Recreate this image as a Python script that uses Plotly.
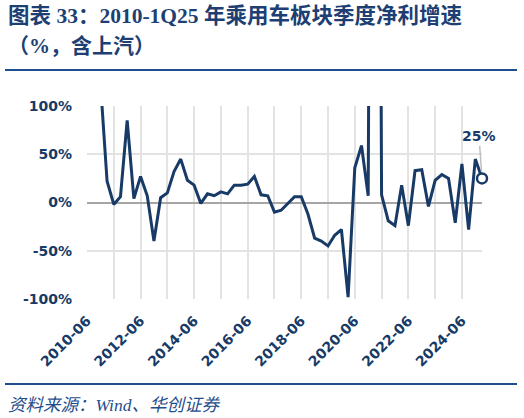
import plotly.graph_objects as go

# ---- data ----
quarters = [f"{y}-{m}" for y in range(2010, 2026) for m in ("03", "06", "09", "12")]
quarters = quarters[1:quarters.index("2025-03") + 1]  # 2010-06 .. 2025-03
growth = [250, 180, 125, 22, -2, 6, 85, 4, 27, 7,
          -40, 5, 10, 32, 45, 23, 18, -1, 9, 7,
          11, 9, 18, 18, 19, 27, 8, 7, -10, -8,
          -1, 6, 6, -12, -37, -40, -45, -34, -28, -98,
          36, 59, 7, 1500, 8, -19, -24, 18, -24, 33,
          34, -4, 23, 29, 25, -21, 40, -28, 45, 25]
y_ticks = [-100, -50, 0, 50, 100]
y_ticktext = [f"{v}%" for v in y_ticks]
grid_vals = quarters[::4]
grid_text = [q if i % 2 == 0 else "" for i, q in enumerate(grid_vals)]

title1 = "图表 33：2010-1Q25 年乘用车板块季度净利增速"
title2 = "（%，含上汽）"
source = "资料来源：Wind、华创证券"

NAVY = "#173a66"
TITLE_BLUE = "#1d3f73"
RULE = "#1f4e8c"
W, H = 524, 418
L, R, T, B = 87, 482, 106, 299


def xp(px):
    return (px - L) / (R - L)


def yp(py):
    return (B - py) / (B - T)


fig = go.Figure()
fig.add_trace(go.Scatter(
    x=quarters, y=growth, mode="lines",
    line=dict(color=NAVY, width=3),
    hoverinfo="skip", showlegend=False,
))
fig.add_trace(go.Scatter(
    x=[quarters[-1]], y=[growth[-1]], mode="markers",
    marker=dict(symbol="circle", size=10, color="white",
                line=dict(color=NAVY, width=2.5)),
    cliponaxis=False, showlegend=False, hoverinfo="skip",
))

fig.add_annotation(
    x=quarters[-1], y=growth[-1], text=f"<b>{growth[-1]}%</b>",
    showarrow=True, arrowhead=0, arrowcolor="#bfbfbf", arrowwidth=1.5,
    ax=-3, ay=-42, standoff=7,
    font=dict(family="DejaVu Sans", size=14, color=NAVY),
)

tfont = "Liberation Serif, Noto Sans CJK SC"
fig.add_annotation(xref="paper", yref="paper", x=xp(6), y=yp(16),
                   xanchor="left", yanchor="middle", showarrow=False,
                   text=f"<b>{title1}</b>",
                   font=dict(family=tfont, size=21.5, color=TITLE_BLUE))
fig.add_annotation(xref="paper", yref="paper", x=xp(6), y=yp(46),
                   xanchor="left", yanchor="middle", showarrow=False,
                   text=f"<b>{title2}</b>",
                   font=dict(family=tfont, size=21, color=TITLE_BLUE))
fig.add_annotation(xref="paper", yref="paper", x=xp(6), y=yp(405),
                   xanchor="left", yanchor="middle", showarrow=False,
                   text=f"<i>{source}</i>",
                   font=dict(family=tfont, size=17.5, color=RULE))

for py in (70, 384):
    fig.add_shape(type="line", xref="paper", yref="paper", layer="above",
                  x0=xp(5), x1=xp(517), y0=yp(py), y1=yp(py),
                  line=dict(color=RULE, width=2))

tickfont = dict(family="DejaVu Sans", size=14, color=NAVY, weight="bold")
fig.update_layout(
    width=W, height=H,
    margin=dict(l=L, r=W - R, t=T, b=H - B),
    paper_bgcolor="white", plot_bgcolor="white",
    xaxis=dict(
        type="category", categoryorder="array", categoryarray=quarters,
        range=[0, len(quarters) - 1],
        tickmode="array", tickvals=grid_vals, ticktext=grid_text,
        tickangle=-45, tickfont=tickfont, ticks="", ticklabelstandoff=10,
        showgrid=True, gridcolor="#e3e3e3", gridwidth=1.5,
        showline=False, zeroline=False, fixedrange=True,
    ),
    yaxis=dict(
        range=[-100, 100], tickmode="array", tickvals=y_ticks,
        ticktext=y_ticktext, tickfont=tickfont, ticks="",
        ticklabelstandoff=14,
        showgrid=True, gridcolor="#e3e3e3", gridwidth=1.5,
        zeroline=True, zerolinecolor="#a6a6a6", zerolinewidth=1.5,
        showline=False, fixedrange=True,
    ),
)

fig.write_html(
    "out.html",
    config={"displayModeBar": False},
    post_script="document.body.style.margin='0';document.body.style.padding='0';",
)
